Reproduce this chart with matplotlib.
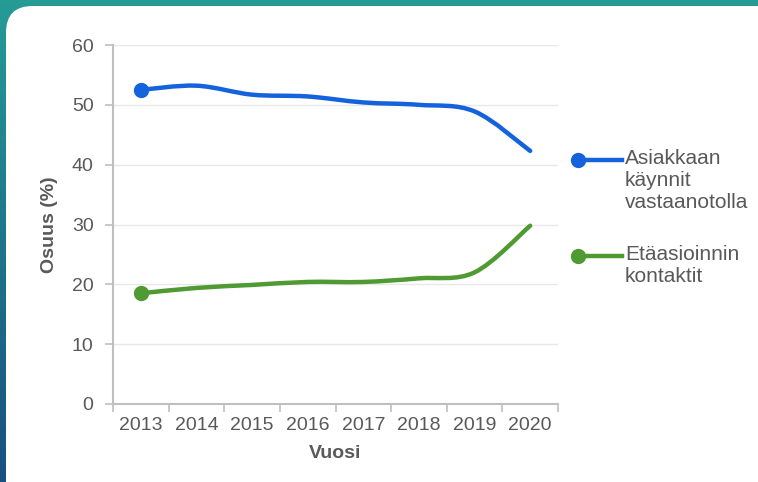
import numpy as np
import matplotlib

matplotlib.use("Agg")
import matplotlib.pyplot as plt
from matplotlib.lines import Line2D
from matplotlib.patches import FancyBboxPatch, PathPatch
from matplotlib.path import Path

plt.rcParams["font.family"] = ["Liberation Sans", "DejaVu Sans"]

years = [2013, 2014, 2015, 2016, 2017, 2018, 2019, 2020]
visits = [52.5, 53.2, 51.7, 51.4, 50.4, 50.0, 48.9, 42.3]
remote = [18.5, 19.4, 19.9, 20.4, 20.4, 21.0, 22.0, 29.8]
series_names = ["Asiakkaan\nkäynnit\nvastaanotolla", "Etäasioinnin\nkontaktit"]
y_ticks = [0, 10, 20, 30, 40, 50, 60]

BLUE = "#1463dc"
GREEN = "#4f9a32"
TEXT = "#595959"
W, H = 758, 482


def smooth_path(xs, ys):
    # Catmull-Rom segments written as cubic Bezier pieces
    pts = np.column_stack([xs, ys]).astype(float)
    verts = [pts[0]]
    codes = [Path.MOVETO]
    n = len(pts)
    for i in range(n - 1):
        p0 = pts[max(i - 1, 0)]
        p1 = pts[i]
        p2 = pts[i + 1]
        p3 = pts[min(i + 2, n - 1)]
        c1 = p1 + (p2 - p0) / 6.0
        c2 = p2 - (p3 - p1) / 6.0
        verts += [c1, c2, p2]
        codes += [Path.CURVE4] * 3
    return Path(verts, codes)


fig = plt.figure(figsize=(W / 100, H / 100), dpi=100)

# gradient backdrop
bg = fig.add_axes([0, 0, 1, 1], zorder=-10)
gx, gy = np.meshgrid(np.linspace(0, 1, 200), np.linspace(0, 1, 120))
t = np.clip(gy * (1 - 0.6 * gx), 0, 1)
top = np.array([38, 155, 150]) / 255
bottom = np.array([24, 80, 128]) / 255
img = top[None, None, :] * (1 - t[..., None]) + bottom[None, None, :] * t[..., None]
bg.imshow(img, aspect="auto", extent=[0, 1, 1, 0])
bg.set_xlim(0, 1)
bg.set_ylim(1, 0)
bg.axis("off")

card = FancyBboxPatch(
    (6 / W, -40 / H), 900 / W, (H - 6 + 40) / H,
    boxstyle="round,pad=0,rounding_size=0.035",
    transform=fig.transFigure, facecolor="white", edgecolor="none",
    mutation_aspect=W / H, zorder=-5,
)
fig.add_artist(card)

ax = fig.add_axes([113 / W, 78 / H, 445 / W, 359 / H])
ax.patch.set_alpha(0)

for vals, color in [(visits, BLUE), (remote, GREEN)]:
    ax.add_patch(PathPatch(smooth_path(years, vals), facecolor="none",
                           edgecolor=color, lw=3.2, capstyle="round", zorder=3))
    ax.plot(years[0], vals[0], "o", color=color, markersize=10, zorder=4)

ax.set_xlim(2012.5, 2020.5)
ax.set_ylim(0, 60)
ax.set_yticks(y_ticks)
ax.yaxis.grid(True, color="#e8e8e8", lw=1)
ax.set_axisbelow(True)

ax.set_xticks(np.arange(2012.5, 2021, 1))
ax.set_xticklabels([])
ax.set_xticks(years, minor=True)
ax.set_xticklabels([str(y) for y in years], minor=True)
ax.tick_params(axis="x", which="major", length=6, color="#bfbfbf", width=1.2)
ax.tick_params(axis="x", which="minor", length=0, pad=9, labelsize=14, labelcolor=TEXT)
ax.tick_params(axis="y", length=6, color="#bfbfbf", width=1.2, pad=8,
               labelsize=14, labelcolor=TEXT)

for side in ["top", "right"]:
    ax.spines[side].set_visible(False)
for side in ["left", "bottom"]:
    ax.spines[side].set_color("#bfbfbf")
    ax.spines[side].set_linewidth(1.5)

ax.set_xlabel("Vuosi", fontsize=14, fontweight="bold", color=TEXT, labelpad=8)
ax.set_ylabel("Osuus (%)", fontsize=14, fontweight="bold", color=TEXT, labelpad=10)

# legend on the right
legend_rows = [(160, BLUE, series_names[0]), (256, GREEN, series_names[1])]
for ypix, color, label in legend_rows:
    yf = 1 - ypix / H
    fig.add_artist(Line2D([578 / W, 622 / W], [yf, yf], transform=fig.transFigure,
                          color=color, lw=3.2))
    fig.add_artist(Line2D([578 / W], [yf], transform=fig.transFigure, marker="o",
                          color=color, markersize=10))
    fig.text(625 / W, 1 - (ypix - 11) / H, label, fontsize=15, color=TEXT,
             va="top", ha="left", linespacing=1.2)

fig.savefig("out.png", dpi=100)
